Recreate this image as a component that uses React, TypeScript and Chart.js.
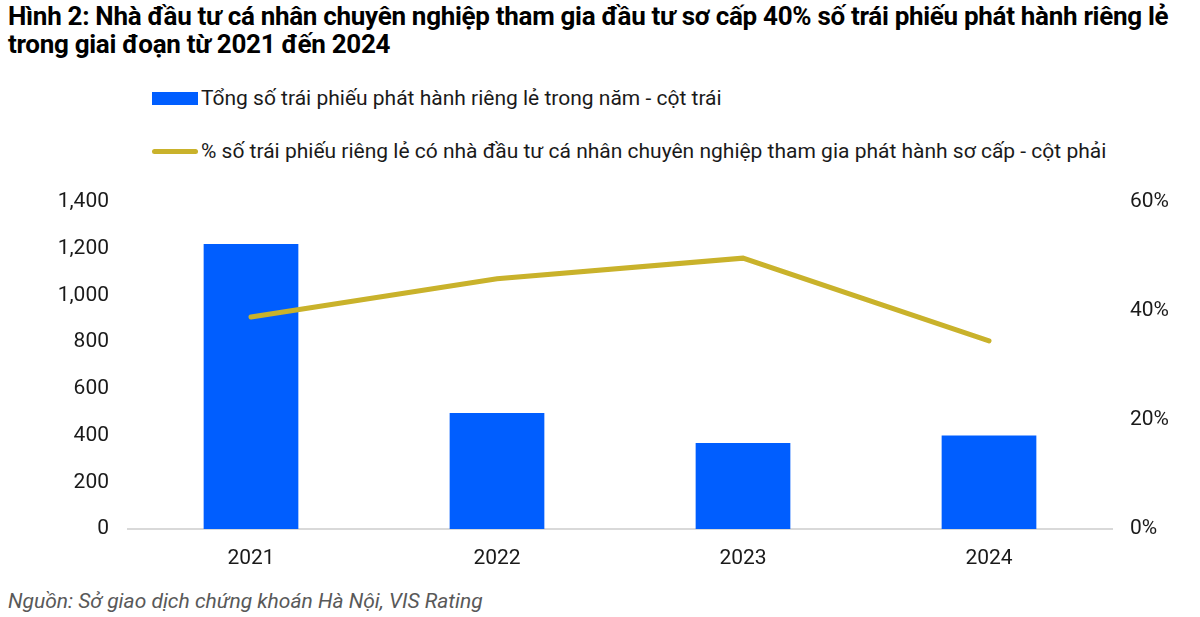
import React, { useEffect, useRef } from "react";
import { Chart, registerables } from "chart.js";

Chart.register(...registerables);

const years = ["2021", "2022", "2023", "2024"];
const totalBonds = [1220, 497, 368, 400];
const proShare = [38.9, 45.9, 49.7, 34.5];
const leftTicks = [0, 200, 400, 600, 800, 1000, 1200, 1400];
const rightTicks = [0, 20, 40, 60];

const titleLine1 =
  "Hình 2: Nhà đầu tư cá nhân chuyên nghiệp tham gia đầu tư sơ cấp 40% số trái phiếu phát hành riêng lẻ";
const titleLine2 = "trong giai đoạn từ 2021 đến 2024";
const barLabel = "Tổng số trái phiếu phát hành riêng lẻ trong năm - cột trái";
const lineLabel =
  "% số trái phiếu riêng lẻ có nhà đầu tư cá nhân chuyên nghiệp tham gia phát hành sơ cấp - cột phải";
const source = "Nguồn: Sở giao dịch chứng khoán Hà Nội, VIS Rating";

const BLUE = "#005EFF";
const GOLD = "#C9B22B";
const FONT = "Roboto, 'Noto Sans', sans-serif";

export default function App() {
  const ref = useRef<HTMLCanvasElement>(null);

  useEffect(() => {
    if (!ref.current) return;
    const chart = new Chart(ref.current, {
      data: {
        labels: years,
        datasets: [
          {
            type: "line",
            label: lineLabel,
            data: proShare,
            yAxisID: "y1",
            borderColor: GOLD,
            borderWidth: 5,
            borderCapStyle: "round",
            borderJoinStyle: "miter",
            pointRadius: 0,
            tension: 0,
            order: 0,
          },
          {
            type: "bar",
            label: barLabel,
            data: totalBonds,
            yAxisID: "y",
            backgroundColor: BLUE,
            categoryPercentage: 1,
            barPercentage: 0.385,
            order: 1,
          },
        ],
      },
      options: {
        animation: false,
        responsive: false,
        maintainAspectRatio: false,
        layout: { padding: { top: 40, left: 0, right: 0, bottom: 0 } },
        plugins: { legend: { display: false }, tooltip: { enabled: false } },
        scales: {
          x: {
            grid: { display: false },
            border: { display: true, color: "#D9D9D9", width: 2 },
            ticks: { color: "#1a1a1a", font: { family: FONT, size: 21 }, padding: 9 },
            afterFit: (s: any) => {
              s.height = 43;
            },
          },
          y: {
            position: "left",
            min: 0,
            max: 1400,
            grid: { display: false },
            border: { display: false },
            afterBuildTicks: (s: any) => {
              s.ticks = leftTicks.map((v) => ({ value: v }));
            },
            ticks: {
              color: "#1a1a1a",
              font: { family: FONT, size: 21 },
              padding: 11,
              callback: (v: any) => Number(v).toLocaleString("en-US"),
            },
            afterFit: (s: any) => {
              s.width = 128;
            },
          },
          y1: {
            position: "right",
            min: 0,
            max: 60,
            grid: { display: false },
            border: { display: false },
            afterBuildTicks: (s: any) => {
              s.ticks = rightTicks.map((v) => ({ value: v }));
            },
            ticks: {
              color: "#1a1a1a",
              font: { family: FONT, size: 21 },
              padding: 10,
              callback: (v: any) => v + "%",
            },
            afterFit: (s: any) => {
              s.width = 88;
            },
          },
        },
      },
    } as any);
    return () => chart.destroy();
  }, []);

  return (
    <div
      style={{
        position: "fixed",
        left: 0,
        top: 0,
        width: 1200,
        height: 617,
        background: "#fff",
        fontFamily: FONT,
        overflow: "hidden",
      }}
    >
      <div
        style={{
          position: "absolute",
          left: 8,
          top: 2,
          fontSize: 26,
          fontWeight: 700,
          lineHeight: "28px",
          color: "#000",
          whiteSpace: "nowrap",
          letterSpacing: -0.3,
        }}
      >
        {titleLine1}
        <br />
        {titleLine2}
      </div>
      <div style={{ position: "absolute", left: 152, top: 85, display: "flex", alignItems: "center", whiteSpace: "nowrap", lineHeight: "26px" }}>
        <span style={{ display: "inline-block", width: 46, height: 13, background: BLUE, marginRight: 3 }} />
        <span style={{ fontSize: 21, color: "#1a1a1a" }}>{barLabel}</span>
      </div>
      <div style={{ position: "absolute", left: 152, top: 138, display: "flex", alignItems: "center", whiteSpace: "nowrap", lineHeight: "26px" }}>
        <span style={{ display: "inline-block", width: 46, height: 5, borderRadius: 3, background: GOLD, marginRight: 3 }} />
        <span style={{ fontSize: 21, color: "#1a1a1a" }}>{lineLabel}</span>
      </div>
      <canvas
        ref={ref}
        width={1200}
        height={410}
        style={{ position: "absolute", left: 0, top: 162, width: 1200, height: 410 }}
      />
      <div
        style={{
          position: "absolute",
          left: 8,
          top: 588,
          fontSize: 21,
          fontStyle: "italic",
          color: "#595959",
          whiteSpace: "nowrap",
          lineHeight: "26px",
        }}
      >
        {source}
      </div>
    </div>
  );
}
